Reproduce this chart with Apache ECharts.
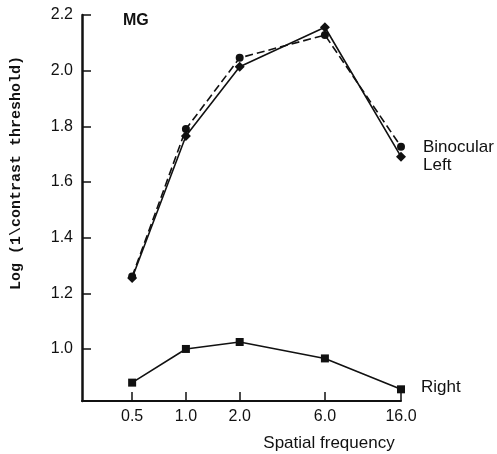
<!DOCTYPE html>
<html><head><meta charset="utf-8">
<script src="https://cdn.jsdelivr.net/npm/echarts@6/dist/echarts.min.js"></script>
<style>html,body{margin:0;padding:0;background:#fff}#c{width:497px;height:454px}</style>
</head><body><div id="c"></div>
<script>
// Spatial frequency (cycles/deg) — plotted on a log axis
const frequencies = [0.5, 1.0, 2.0, 6.0, 16.0];
const xTickLabels = [0.5, 1.0, 2.0, 6.0, 16.0];
// Log (1/contrast threshold) for subject MG
const binocular = [1.26, 1.79, 2.046, 2.128, 1.727];
const leftEye   = [1.255, 1.765, 2.014, 2.156, 1.691];
const rightEye  = [0.879, 1.0, 1.025, 0.966, 0.855];
const yTicks = [1.0, 1.2, 1.4, 1.6, 1.8, 2.0, 2.2];

const ink = '#111';
const pair = arr => frequencies.map((f, i) => [f, arr[i]]);

const chart = echarts.init(document.getElementById('c'), null, {renderer: 'canvas'});
chart.setOption({
  animation: false,
  backgroundColor: '#fff',
  grid: {left: 82, right: 96, top: 15, bottom: 53, containLabel: false, outerBoundsMode: 'none'},
  xAxis: {
    type: 'log', logBase: 2, min: 0.262, max: 16,
    axisLine: {show: true, lineStyle: {color: ink, width: 2}},
    axisTick: {show: true, inside: true, length: 9, lineStyle: {color: ink, width: 1.5}, customValues: xTickLabels},
    axisLabel: {show: true, margin: 8, fontFamily: 'Liberation Sans', fontSize: 16, color: ink,
      customValues: xTickLabels, formatter: v => Number(v).toFixed(1)},
    splitLine: {show: false}, minorTick: {show: false}
  },
  yAxis: {
    type: 'value', min: 0.813, max: 2.2,
    axisLine: {show: true, lineStyle: {color: ink, width: 2.5}},
    axisTick: {show: true, inside: true, length: 9, lineStyle: {color: ink, width: 1.5}, customValues: yTicks},
    axisLabel: {show: true, margin: 9, fontFamily: 'Liberation Sans', fontSize: 16, color: ink,
      customValues: yTicks, formatter: v => Number(v).toFixed(1)},
    splitLine: {show: false}
  },
  graphic: [
    {type: 'text', left: 123, top: 13,
     style: {text: 'MG', fontFamily: 'Liberation Sans', fontWeight: 'bold', fontSize: 16, fill: ink}},
    {type: 'text', x: 329, y: 443,
     style: {text: 'Spatial frequency', fontFamily: 'Liberation Sans', fontSize: 17, fill: ink, align: 'center', verticalAlign: 'middle'}},
    {type: 'text', x: 16, y: 173, rotation: Math.PI / 2,
     style: {text: 'Log (1\\contrast threshold)', fontFamily: 'Liberation Mono', fontWeight: 'bold', fontSize: 15, fill: ink, align: 'center', verticalAlign: 'middle'}}
  ],
  series: [
    {
      name: 'Binocular', type: 'line', data: pair(binocular),
      symbol: 'circle', symbolSize: 8, itemStyle: {color: ink},
      lineStyle: {color: ink, width: 1.6, type: [8, 4]},
      endLabel: {show: true, formatter: '{a}', fontFamily: 'Liberation Sans', fontSize: 17, color: ink, offset: [14, 1]}
    },
    {
      name: 'Left', type: 'line', data: pair(leftEye),
      symbol: 'diamond', symbolSize: 10, itemStyle: {color: ink},
      lineStyle: {color: ink, width: 1.6},
      endLabel: {show: true, formatter: '{a}', fontFamily: 'Liberation Sans', fontSize: 17, color: ink, offset: [14, 9]}
    },
    {
      name: 'Right', type: 'line', data: pair(rightEye),
      symbol: 'rect', symbolSize: 8, itemStyle: {color: ink},
      lineStyle: {color: ink, width: 1.6},
      endLabel: {show: true, formatter: '{a}', fontFamily: 'Liberation Sans', fontSize: 17, color: ink, offset: [12, -2]}
    }
  ]
});
</script></body></html>
